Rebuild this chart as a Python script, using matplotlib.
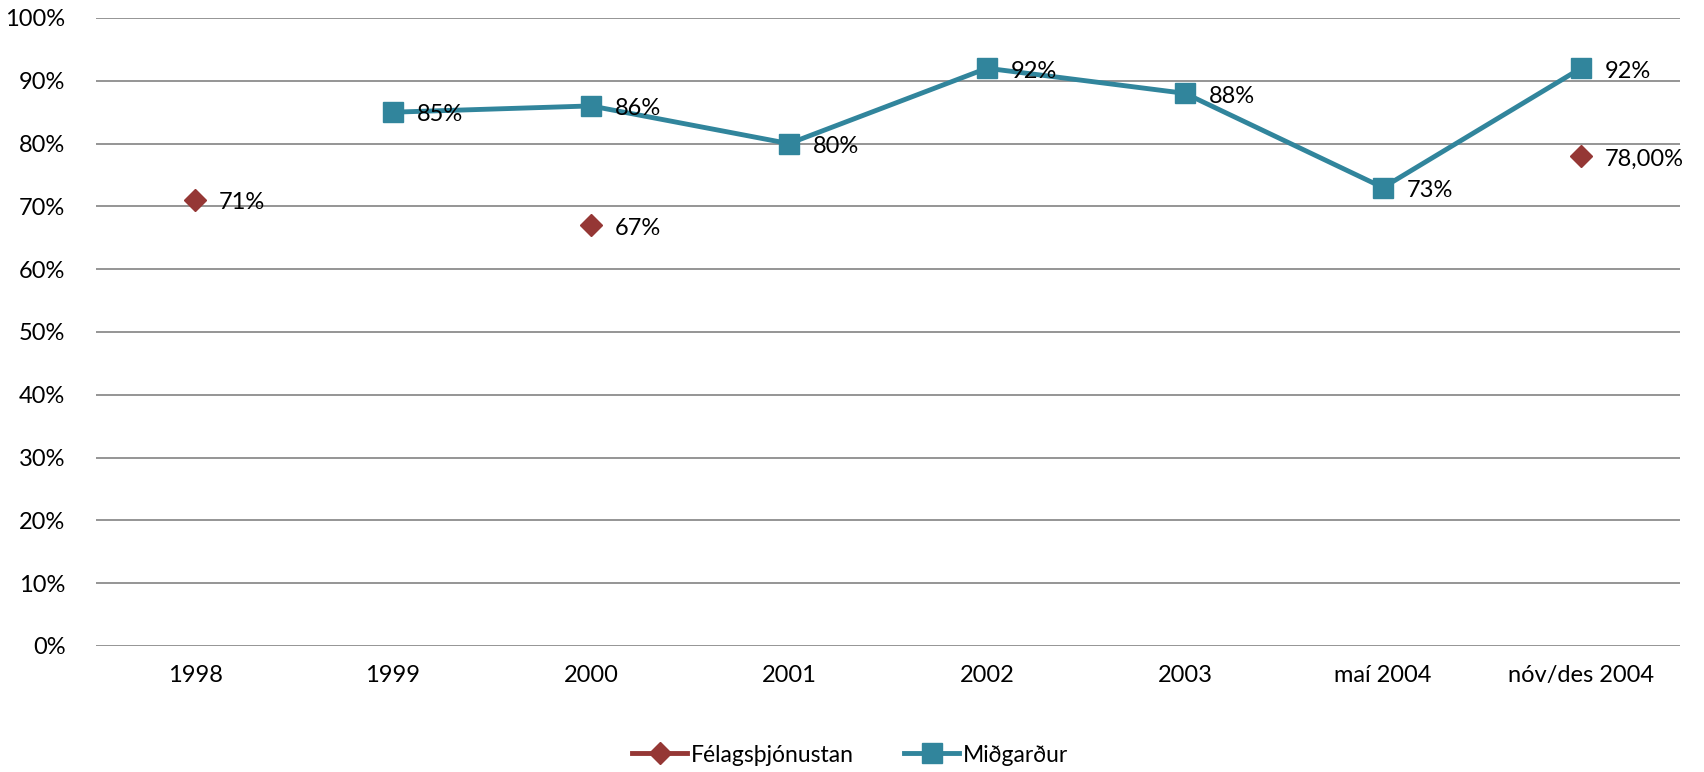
import numpy as np
from matplotlib import pyplot as plt
from matplotlib.ticker import FuncFormatter

plt.rcParams['font.family'] = ['Lato', 'DejaVu Sans']

# Gögn
categories = ['1998', '1999', '2000', '2001', '2002', '2003', 'maí 2004', 'nóv/des 2004']
felags = [71, np.nan, 67, np.nan, np.nan, np.nan, np.nan, 78]
felags_labels = ['71%', '', '67%', '', '', '', '', '78,00%']
midgardur = [np.nan, 85, 86, 80, 92, 88, 73, 92]
midgardur_labels = ['', '85%', '86%', '80%', '92%', '88%', '73%', '92%']

red = '#953735'
teal = '#31859c'

fig = plt.figure(figsize=(17.04, 7.72), dpi=100)
ax = fig.add_axes([96 / 1704, 1 - 646 / 772, 1584 / 1704, 628 / 772])

x = np.arange(len(categories))
ax.plot(x, felags, color=red, lw=3.5, marker='D', markersize=11,
        label='Félagsþjónustan', zorder=3)
ax.plot(x, midgardur, color=teal, lw=3.5, marker='s', markersize=14,
        label='Miðgarður', zorder=3)

for xi, v, t in zip(x, felags, felags_labels):
    if t:
        ax.annotate(t, (xi, v), xytext=(17, -2), textcoords='offset points',
                    va='center', ha='left', fontsize=17)
for xi, v, t in zip(x, midgardur, midgardur_labels):
    if t:
        ax.annotate(t, (xi, v), xytext=(17, -2), textcoords='offset points',
                    va='center', ha='left', fontsize=17)

ax.set_xlim(-0.5, len(categories) - 0.5)
ax.set_ylim(0, 100)
ax.set_yticks(range(0, 101, 10))
ax.yaxis.set_major_formatter(FuncFormatter(lambda v, p: f'{v:.0f}%'))
ax.set_xticks(x)
ax.set_xticklabels(categories)
ax.tick_params(axis='both', length=0, labelsize=17)
ax.tick_params(axis='y', pad=22)
ax.tick_params(axis='x', pad=14)
ax.grid(axis='y', color='#8c8c8c', lw=1.3)
ax.set_axisbelow(True)
for s in ax.spines.values():
    s.set_visible(False)

fig.legend(loc='center', bbox_to_anchor=(850 / 1704, 1 - 755 / 772), ncol=2,
           frameon=False, fontsize=16.5, handlelength=2.4, columnspacing=2.2,
           handletextpad=0.15)

fig.savefig('out.png', dpi=100)
